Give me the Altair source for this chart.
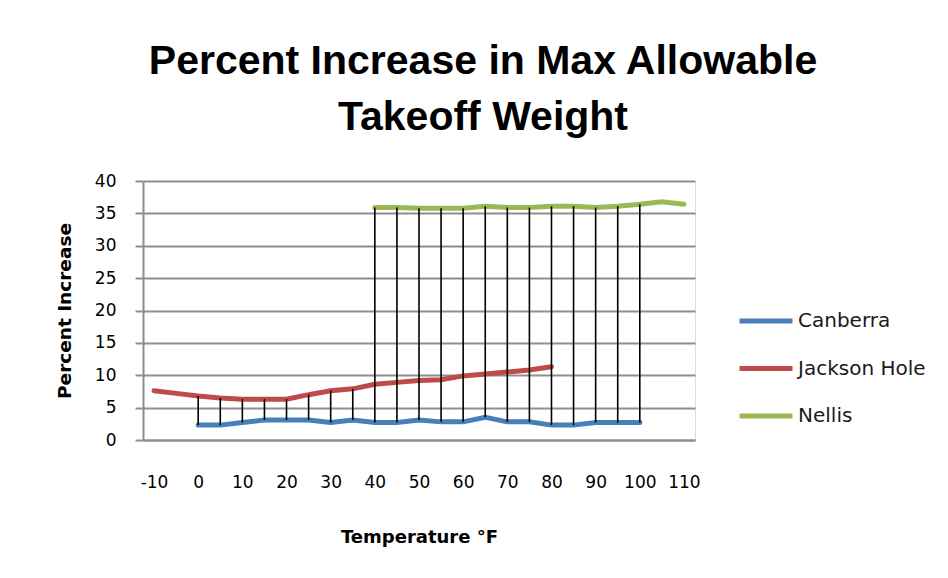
import altair as alt
import pandas as pd

temps = [-10, -5, 0, 5, 10, 15, 20, 25, 30, 35, 40, 45, 50, 55, 60, 65, 70, 75, 80, 85, 90, 95, 100, 105, 110]
canberra = [None, None, 2.3, 2.3, 2.7, 3.1, 3.1, 3.1, 2.7, 3.1, 2.7, 2.7, 3.1, 2.8, 2.8, 3.5, 2.8, 2.8, 2.3, 2.3, 2.7, 2.7, 2.7, None, None]
jackson_hole = [7.6, 7.2, 6.8, 6.5, 6.3, 6.3, 6.3, 7.0, 7.6, 7.9, 8.6, 8.9, 9.2, 9.3, 9.9, 10.2, 10.5, 10.8, 11.3, None, None, None, None, None, None]
nellis = [None, None, None, None, None, None, None, None, None, None, 35.9, 35.9, 35.8, 35.8, 35.8, 36.1, 35.9, 35.9, 36.1, 36.1, 35.9, 36.1, 36.4, 36.8, 36.4]
series_names = ["Canberra", "Jackson Hole", "Nellis"]
series_colors = ["#4A7EBB", "#BE4B48", "#98B954"]
y_ticks = [0, 5, 10, 15, 20, 25, 30, 35, 40]

rows = []
for name, vals in zip(series_names, [canberra, jackson_hole, nellis]):
    for t, v in zip(temps, vals):
        if v is not None:
            rows.append({"temp": t, "series": name, "value": v})
df = pd.DataFrame(rows)

grid_gray = "#8E8E8E"

x_enc = alt.X(
    "temp:O",
    scale=alt.Scale(type="point", domain=temps, padding=0.5),
    axis=alt.Axis(
        title="Temperature °F",
        labelExpr="datum.value % 10 == 0 ? datum.label : ''",
        labelAngle=0,
        ticks=False,
        labelPadding=34,
        labelFont="DejaVu Sans",
        labelFontSize=17,
        labelColor="black",
        titleFont="DejaVu Sans",
        titleFontSize=18,
        titleFontWeight="bold",
        titleColor="black",
        titlePadding=38,
        domainColor=grid_gray,
        domainWidth=2,
        grid=False,
    ),
)

y_axis = alt.Axis(
    title="Percent Increase",
    values=y_ticks,
    grid=True,
    gridColor=grid_gray,
    gridWidth=2,
    domainColor=grid_gray,
    domainWidth=2,
    tickColor=grid_gray,
    tickWidth=2,
    tickSize=8,
    labelPadding=19,
    labelFont="DejaVu Sans",
    labelFontSize=17,
    labelColor="black",
    titleFont="DejaVu Sans",
    titleFontSize=18.5,
    titleFontWeight="bold",
    titleColor="black",
    titlePadding=20,
)
y_scale = alt.Scale(domain=[0, 40], nice=False)

lines = alt.Chart(df).mark_line(strokeWidth=5, strokeCap="round").encode(
    x=x_enc,
    y=alt.Y("value:Q", scale=y_scale, axis=y_axis),
    color=alt.Color(
        "series:N",
        scale=alt.Scale(domain=series_names, range=series_colors),
        legend=alt.Legend(
            title=None,
            orient="none",
            legendX=594,
            legendY=130,
            symbolType="stroke",
            symbolSize=2800,
            symbolStrokeWidth=5,
            labelFont="DejaVu Sans",
            labelFontSize=20,
            labelColor="#1a1a1a",
            labelOffset=3,
            clipHeight=20,
            rowPadding=27.5,
            padding=0,
        ),
    ),
)

hilo = (
    alt.Chart(df)
    .transform_aggregate(lo="min(value)", hi="max(value)", n="count()", groupby=["temp"])
    .transform_filter("datum.n > 1")
    .mark_rule(color="black", strokeWidth=1.6)
    .encode(
        x=x_enc,
        y=alt.Y("lo:Q", scale=y_scale, axis=y_axis),
        y2="hi:Q",
    )
)

chart = (
    alt.layer(lines, hilo)
    .properties(
        width=552,
        height=259,
        autosize=alt.AutoSizeParams(type="none"),
        padding={"left": 135, "top": 173, "right": 240, "bottom": 120},
        title=alt.TitleParams(
            text=["Percent Increase in Max Allowable", "Takeoff Weight"],
            font="Liberation Sans",
            fontSize=41,
            fontWeight="bold",
            color="black",
            lineHeight=56,
            anchor="middle",
            dx=64,
            offset=33,
        ),
    )
    .configure_view(stroke=None)
    .configure(background="white")
)

chart.save("out.html", embed_options={"renderer": "svg", "actions": False})
